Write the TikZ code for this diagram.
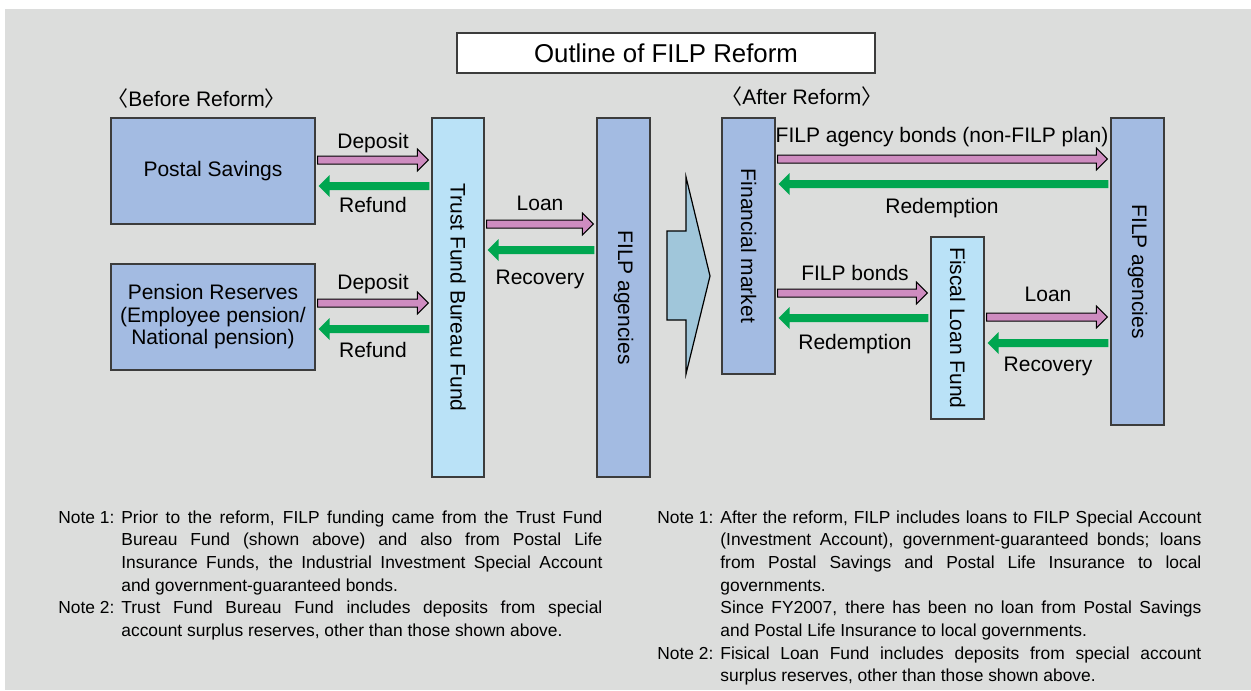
\documentclass[tikz,border=0pt]{standalone}
\usepackage{fontspec}
\setmainfont{Liberation Sans}
\newfontfamily\cjk{Noto Sans CJK JP}
\usetikzlibrary{calc}
\definecolor{bggray}{RGB}{220,221,220}
\definecolor{boxline}{RGB}{60,60,60}
\definecolor{agencyblue}{RGB}{163,187,226}
\definecolor{fundblue}{RGB}{186,226,247}
\definecolor{shiftblue}{RGB}{160,198,218}
\definecolor{flowpink}{RGB}{206,140,192}
\definecolor{flowgreen}{RGB}{0,166,80}
% block arrow from #2 to #3, at the height of #2
\newcommand\flowarrow[3]{%
  \coordinate (flowfrom) at (#2);
  \coordinate (flowto) at (#3);
  \path[#1] let \p1=(flowfrom), \p2=(flowto), \n1={ifthenelse(\x2>\x1,1,-1)} in
    ({\x1+\n1*1pt},{\y1+2pt}) -- ({\x2-\n1*7pt},{\y1+2pt}) -- ({\x2-\n1*7pt},{\y1+5.5pt})
    -- ({\x2-\n1*1.5pt},\y1) -- ({\x2-\n1*7pt},{\y1-5.5pt}) -- ({\x2-\n1*7pt},{\y1-2pt})
    -- ({\x1+\n1*1pt},{\y1-2pt}) -- cycle;}
\begin{document}
\begin{tikzpicture}[x=0.5pt,y=-0.5pt,
  box/.style={draw=boxline,line width=0.65pt,fill=agencyblue,inner sep=0pt,
    align=center,font=\fontsize{10.5}{11.25}\selectfont},
  fundbox/.style={box,fill=fundblue},
  lbl/.style={inner sep=0pt,text height=7.5pt,text depth=0pt,font=\fontsize{10.5}{12}\selectfont},
  inflow/.style={fill=flowpink,draw=black,line width=0.5pt},
  outflow/.style={fill=flowgreen},
  notes/.style={inner sep=0pt,anchor=base west,font=\fontsize{8.7}{11.35}\selectfont}]
\useasboundingbox (0,0) rectangle (1251,690);
\fill[bggray] (5,9) rectangle (1251,690);
\node[box,fill=white,minimum width=209pt,minimum height=20pt,font=\fontsize{12.9}{14}\selectfont] (title) at (666,53) {Outline of FILP Reform};

% before reform
\node[lbl,anchor=west] (before) at (107,99) {{\cjk 〈}Before Reform{\cjk 〉}};
\node[box,minimum width=102pt,minimum height=53pt] (postal) at (213,171) {Postal Savings};
\node[box,minimum width=102pt,minimum height=53pt] (pension) at (213,317) {Pension Reserves\\(Employee pension/\\National pension)};
\node[fundbox,minimum width=26pt,minimum height=179.5pt] (trust) at (458,297.5) {\rotatebox{-90}{Trust Fund Bureau Fund}};
\node[box,minimum width=26.5pt,minimum height=179.5pt] (agencyA) at (623.5,297.5) {\rotatebox{-90}{FILP agencies}};
\flowarrow{inflow}{postal.east |- 0,160}{trust.west |- 0,160}
\flowarrow{outflow}{trust.west |- 0,186}{postal.east |- 0,186}
\flowarrow{inflow}{pension.east |- 0,303}{trust.west |- 0,303}
\flowarrow{outflow}{trust.west |- 0,329}{pension.east |- 0,329}
\flowarrow{inflow}{trust.east |- 0,224}{agencyA.west |- 0,224}
\flowarrow{outflow}{agencyA.west |- 0,250}{trust.east |- 0,250}
\node[lbl] (deposit1) at (373,141) {Deposit};
\node[lbl] (refund1) at (373,205) {Refund};
\node[lbl] (deposit2) at (373,282) {Deposit};
\node[lbl] (refund2) at (373,350) {Refund};
\node[lbl] (loanA) at (540,203) {Loan};
\node[lbl] (recoveryA) at (540,277) {Recovery};

\draw[fill=shiftblue,line width=0.6pt] (667,231) -- (686,231) -- (686,177) -- (710,276) -- (686,374) -- (686,320) -- (667,320) -- cycle;

% after reform
\node[lbl,anchor=west] (after) at (721,97) {{\cjk 〈}After Reform{\cjk 〉}};
\node[box,minimum width=26.5pt,minimum height=128pt] (market) at (748.5,246) {\rotatebox{-90}{Financial market}};
\node[fundbox,minimum width=26.5pt,minimum height=91pt] (fiscal) at (957.5,328) {\rotatebox{-90}{Fiscal Loan Fund}};
\node[box,minimum width=26.5pt,minimum height=153.5pt] (agencyB) at (1137.5,271.5) {\rotatebox{-90}{FILP agencies}};
\flowarrow{inflow}{market.east |- 0,159}{agencyB.west |- 0,159}
\flowarrow{outflow}{agencyB.west |- 0,184}{market.east |- 0,184}
\flowarrow{inflow}{market.east |- 0,293}{fiscal.west |- 0,293}
\flowarrow{outflow}{fiscal.west |- 0,318}{market.east |- 0,318}
\flowarrow{inflow}{fiscal.east |- 0,317}{agencyB.west |- 0,317}
\flowarrow{outflow}{agencyB.west |- 0,343}{fiscal.east |- 0,343}
\node[lbl] (agencybonds) at (942,135) {FILP agency bonds (non-FILP plan)};
\node[lbl] (redemption1) at (942,206) {Redemption};
\node[lbl] (filpbonds) at (855,273) {FILP bonds};
\node[lbl] (redemption2) at (855,342) {Redemption};
\node[lbl] (loanB) at (1048,294) {Loan};
\node[lbl] (recoveryB) at (1048,364) {Recovery};

% notes
\node[notes] (notesA) at (58,523) {\parbox[t]{272pt}{\sloppy\parskip=0pt
  \noindent\hangindent=31.5pt\hangafter=1\makebox[31.5pt][l]{Note 1:}Prior to the reform, FILP funding came from the Trust Fund\linebreak
  Bureau Fund (shown above) and also from Postal Life\linebreak
  Insurance Funds, the Industrial Investment Special Account\linebreak
  and government-guaranteed bonds.\par
  \noindent\hangindent=31.5pt\hangafter=1\makebox[31.5pt][l]{Note 2:}Trust Fund Bureau Fund includes deposits from special\linebreak
  account surplus reserves, other than those shown above.}};
\node[notes] (notesB) at (657,523) {\parbox[t]{272pt}{\sloppy\parskip=0pt
  \noindent\hangindent=31.5pt\hangafter=1\makebox[31.5pt][l]{Note 1:}After the reform, FILP includes loans to FILP Special Account\linebreak
  (Investment Account), government-guaranteed bonds; loans\linebreak
  from Postal Savings and Postal Life Insurance to local\linebreak
  governments.\par
  \noindent\hangindent=31.5pt\hangafter=0 Since FY2007, there has been no loan from Postal Savings\linebreak
  and Postal Life Insurance to local governments.\par
  \noindent\hangindent=31.5pt\hangafter=1\makebox[31.5pt][l]{Note 2:}Fisical Loan Fund includes deposits from special account\linebreak
  surplus reserves, other than those shown above.}};
\end{tikzpicture}
\end{document}
